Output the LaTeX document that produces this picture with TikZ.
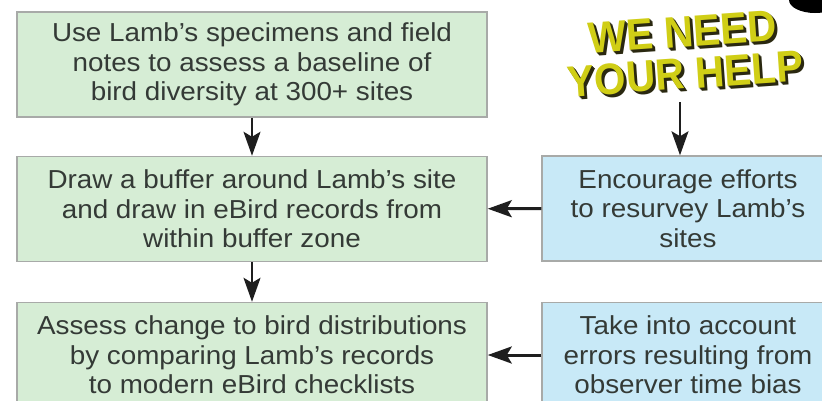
\documentclass[tikz,border=0pt]{standalone}
\usepackage{fontspec}
\setmainfont{Liberation Sans}[FakeStretch=1.07]
\newfontfamily\helpfont{Liberation Sans}[FakeStretch=0.92]
\usetikzlibrary{arrows.meta,positioning}
\definecolor{greenfill}{RGB}{214,237,213}
\definecolor{bluefill}{RGB}{200,233,247}
\definecolor{boxline}{RGB}{168,170,168}
\definecolor{textgray}{RGB}{52,58,54}
\definecolor{arrowgray}{RGB}{30,30,30}
\definecolor{helpyellow}{RGB}{208,206,22}
\definecolor{helpshadow}{RGB}{42,40,16}
\tikzset{greenbox/.style={rectangle,draw=boxline,fill=greenfill,line width=1.5pt,minimum width=470pt,minimum height=105pt,align=center,text=textgray,font=\fontsize{26}{29.5}\selectfont},
  bluebox/.style={greenbox,fill=bluefill,minimum width=292pt},
  flow/.style={-{Stealth[length=24pt,width=17pt,inset=5pt]},line width=2pt,draw=arrowgray},
  helptext/.style={align=center,text=helpyellow,font=\helpfont\bfseries\fontsize{44}{42}\selectfont,rotate=4}}

\begin{document}
\begin{tikzpicture}[x=1pt,y=-1pt]
        \useasboundingbox[fill=white] (0,0) rectangle (822,400);

        \node[greenbox] (g1) at (252,64.5) {Use Lamb's specimens and field\\notes to assess a baseline of\\bird diversity at 300+ sites};
        \node[greenbox] (g2) at (252,209) {Draw a buffer around Lamb's site\\and draw in eBird records from\\within buffer zone};
        \node[greenbox] (g3) at (252,355) {Assess change to bird distributions\\by comparing Lamb's records\\to modern eBird checklists};

        \node[bluebox] (b2) at (688,208.5) {Encourage efforts\\to resurvey Lamb's\\sites};
        \node[bluebox] (b3) at (688,355) {Take into account\\errors resulting from\\observer time bias};

        % banner
        \fill[black] (815,0) ellipse (26pt and 13pt);
        \foreach \d in {3,2,1}
            \node[helptext,text=helpshadow] at (684+\d,53+\d) {WE NEED\\YOUR HELP};
        \node[helptext] (help) at (684,53) {WE NEED\\YOUR HELP};
        \coordinate (helpfoot) at (680,102);

        \draw [flow] (g1) -- (g2);
        \draw [flow] (g2) -- (g3);
        \draw [flow,line width=3pt] (b2) -- (g2);
        \draw [flow,line width=3pt] (b3) -- (g3);
        \draw [flow] (helpfoot) -- (helpfoot |- b2.north);
    \end{tikzpicture}
\end{document}
